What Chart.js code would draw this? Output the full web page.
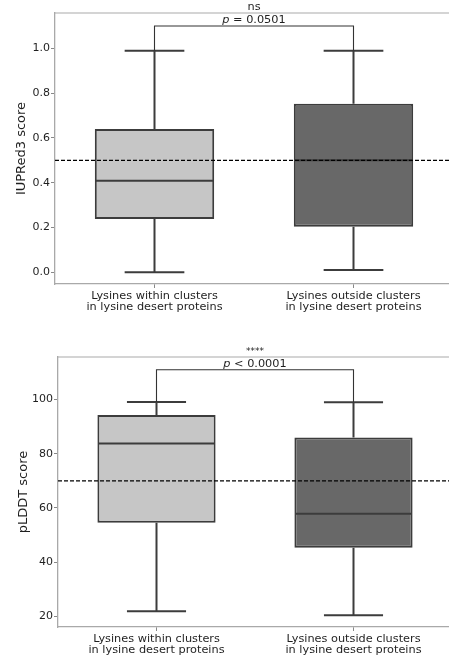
<!DOCTYPE html>
<html>
<head>
<meta charset="utf-8">
<script src="https://cdn.jsdelivr.net/npm/chart.js@4.4.1/dist/chart.umd.min.js"></script>
<style>
  html, body { margin: 0; padding: 0; background: #fff; }
  #wrap { position: relative; width: 449px; height: 656px; overflow: hidden; }
  #c1 { position: absolute; left: 0; top: 0; }
  #c2 { position: absolute; left: 0; top: 330px; }
</style>
</head>
<body>
<div id="wrap">
  <canvas id="c1" width="453" height="320"></canvas>
  <canvas id="c2" width="452" height="326"></canvas>
</div>
<script>
// groups on the x axis
const categories = [
  ['Lysines within clusters', 'in lysine desert proteins'],
  ['Lysines outside clusters', 'in lysine desert proteins']
];
const boxColors = ['#c6c6c6', '#686868'];

// IUPRed3 box stats (whisker low, q1, median, q3, whisker high)
const iupredLow = [0.0, 0.01];
const iupredQ1 = [0.238, 0.204];
const iupredMedian = [0.409, 0.5];
const iupredQ3 = [0.64, 0.753];
const iupredHigh = [0.99, 0.99];
const iupredTicks = [0, 0.2, 0.4, 0.6, 0.8, 1.0];
const iupredCutoff = 0.5;
const iupredBracket = 1.10;

// pLDDT box stats
const plddtLow = [21.9, 20.4];
const plddtQ1 = [54.6, 45.3];
const plddtMedian = [83.8, 57.9];
const plddtQ3 = [94.3, 86.0];
const plddtHigh = [99.1, 99.0];
const plddtTicks = [20, 40, 60, 80, 100];
const plddtCutoff = 70;
const plddtBracket = 111;

const FONT = 'DejaVu Sans';
const edge = '#3c3c3c';
const spine = '#a9a9a9';
const textCol = '#1f1f1f';

function boxPlugin(s) {
  return {
    id: 'boxes',
    beforeDatasetsDraw(chart) {
      const { ctx, scales: { x, y } } = chart;
      const bars = chart.getDatasetMeta(0).data;
      ctx.save();
      ctx.strokeStyle = edge;
      ctx.lineWidth = 2;
      s.low.forEach((lo, i) => {
        const cx = x.getPixelForValue(i);
        const hw = bars[i].width / 4;
        const yLo = y.getPixelForValue(lo), yHi = y.getPixelForValue(s.high[i]);
        ctx.beginPath();
        ctx.moveTo(cx, y.getPixelForValue(s.q1[i])); ctx.lineTo(cx, yLo);
        ctx.moveTo(cx, y.getPixelForValue(s.q3[i])); ctx.lineTo(cx, yHi);
        ctx.moveTo(cx - hw, yLo); ctx.lineTo(cx + hw, yLo);
        ctx.moveTo(cx - hw, yHi); ctx.lineTo(cx + hw, yHi);
        ctx.stroke();
      });
      ctx.restore();
    },
    afterDatasetsDraw(chart) {
      const { ctx, chartArea: a, scales: { x, y } } = chart;
      const bars = chart.getDatasetMeta(0).data;
      ctx.save();
      // medians
      ctx.strokeStyle = edge;
      ctx.lineWidth = 2;
      s.median.forEach((m, i) => {
        const hw = bars[i].width / 2 - 1;
        const cx = x.getPixelForValue(i), py = y.getPixelForValue(m);
        ctx.beginPath(); ctx.moveTo(cx - hw, py); ctx.lineTo(cx + hw, py); ctx.stroke();
      });
      // cutoff line
      ctx.strokeStyle = '#000';
      ctx.lineWidth = 1.2;
      ctx.setLineDash([4, 2]);
      const cy = y.getPixelForValue(s.cutoff);
      ctx.beginPath(); ctx.moveTo(a.left, cy); ctx.lineTo(a.right, cy); ctx.stroke();
      ctx.setLineDash([]);
      // top spine
      ctx.strokeStyle = spine;
      ctx.lineWidth = 1.2;
      ctx.beginPath(); ctx.moveTo(a.left, a.top); ctx.lineTo(a.right, a.top); ctx.stroke();
      // significance bracket
      const x0 = x.getPixelForValue(0), x1 = x.getPixelForValue(1);
      const by = y.getPixelForValue(s.bracket);
      ctx.strokeStyle = '#333';
      ctx.lineWidth = 1.1;
      ctx.beginPath();
      ctx.moveTo(x0, y.getPixelForValue(s.high[0]));
      ctx.lineTo(x0, by); ctx.lineTo(x1, by);
      ctx.lineTo(x1, y.getPixelForValue(s.high[1]));
      ctx.stroke();
      // labels above the bracket
      const mid = (x0 + x1) / 2;
      ctx.fillStyle = textCol;
      ctx.textBaseline = 'alphabetic';
      ctx.font = 'italic 11.3px "' + FONT + '"';
      const wP = ctx.measureText('p').width;
      ctx.font = '11.3px "' + FONT + '"';
      const wR = ctx.measureText(s.pText).width;
      const start = mid - (wP + wR) / 2;
      ctx.font = 'italic 11.3px "' + FONT + '"';
      ctx.textAlign = 'left';
      ctx.fillText('p', start, by - 3);
      ctx.font = '11.3px "' + FONT + '"';
      ctx.fillText(s.pText, start + wP, by - 3);
      ctx.textAlign = 'center';
      ctx.font = (s.star.startsWith('*') ? '9px' : '11.3px') + ' "' + FONT + '"';
      ctx.fillText(s.star, mid, by - 16);
      ctx.restore();
    }
  };
}

function makeChart(id, s) {
  return new Chart(document.getElementById(id), {
    type: 'bar',
    data: {
      labels: categories,
      datasets: [{
        data: s.q1.map((q, i) => [q, s.q3[i]]),
        backgroundColor: boxColors,
        borderColor: edge,
        borderWidth: 2,
        borderSkipped: false,
        categoryPercentage: 1,
        barPercentage: 0.6
      }]
    },
    options: {
      responsive: false,
      animation: false,
      layout: { padding: { top: s.padTop, left: 0, right: 0, bottom: 0 } },
      plugins: { legend: { display: false }, tooltip: { enabled: false } },
      scales: {
        x: {
          afterFit(sc) { sc.height = s.xHeight; },
          grid: { display: true, drawOnChartArea: false, offset: false, tickLength: 4, color: '#888', lineWidth: 1 },
          border: { display: true, color: spine, width: 1.3 },
          ticks: { color: textCol, font: { family: FONT, size: 11.3, lineHeight: 1.02 }, padding: 2, maxRotation: 0, autoSkip: false }
        },
        y: {
          min: s.min, max: s.max,
          afterFit(sc) { sc.width = s.yWidth; },
          afterBuildTicks(sc) { sc.ticks = s.ticks.map(v => ({ value: v })); },
          grid: { display: true, drawOnChartArea: false, tickLength: 4, color: '#888', lineWidth: 1 },
          border: { display: true, color: spine, width: 1.3 },
          ticks: { color: textCol, font: { family: FONT, size: 11 }, padding: 1, callback: s.fmt },
          title: { display: true, text: s.title, color: textCol, font: { family: FONT, size: 13 }, padding: { top: s.titlePad, bottom: 0 } }
        }
      }
    },
    plugins: [boxPlugin(s)]
  });
}

makeChart('c1', {
  low: iupredLow, q1: iupredQ1, median: iupredMedian, q3: iupredQ3, high: iupredHigh,
  ticks: iupredTicks, cutoff: iupredCutoff, bracket: iupredBracket,
  min: -0.052, max: 1.158, fmt: v => v.toFixed(1),
  title: 'IUPRed3 score', pText: ' = 0.0501', star: 'ns',
  padTop: 13, yWidth: 55, xHeight: 36, titlePad: 14
});

makeChart('c2', {
  low: plddtLow, q1: plddtQ1, median: plddtMedian, q3: plddtQ3, high: plddtHigh,
  ticks: plddtTicks, cutoff: plddtCutoff, bracket: plddtBracket,
  min: 16.1, max: 115.7, fmt: v => String(v),
  title: 'pLDDT score', pText: ' < 0.0001', star: '****',
  padTop: 27, yWidth: 58, xHeight: 29, titlePad: 16
});
</script>
</body>
</html>
